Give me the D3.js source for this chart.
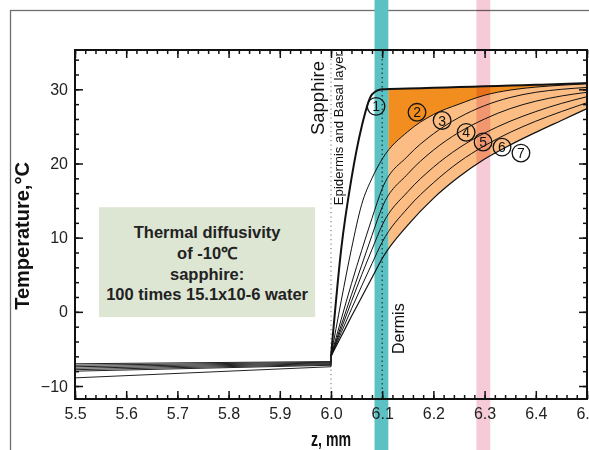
<!DOCTYPE html>
<html>
<head>
<meta charset="utf-8">
<script src="https://cdn.jsdelivr.net/npm/d3@7"></script>
<style>
  body { margin: 0; background: #fff; }
  text { font-family: "Liberation Sans", Arial, sans-serif; }
</style>
</head>
<body>
<svg id="chart"></svg>
<script>
// depth (mm) in the tissue, from the sapphire contact at 6.0
const zTissue = [6.0, 6.02, 6.04, 6.06, 6.08, 6.1, 6.15, 6.2, 6.25, 6.3, 6.35, 6.4, 6.45, 6.5];
const curve1 = [-6, 8.5, 18.0, 25.0, 29.3, 30.0, 30.1, 30.2, 30.3, 30.4, 30.5, 30.6, 30.7, 30.85];
const curve2 = [-6, 1.5, 8.5, 14.5, 18.0, 20.6, 24.3, 26.6, 28.0, 29.2, 29.9, 30.3, 30.55, 30.75];
const curve3 = [-6, -1.0, 3.8, 8.3, 12.6, 16.6, 21.0, 24.0, 26.2, 27.8, 28.9, 29.6, 30.0, 30.25];
const curve4 = [-6, -1.8, 2.3, 6.3, 10.3, 14.1, 18.6, 21.8, 24.2, 26.0, 27.4, 28.4, 29.1, 29.6];
const curve5 = [-6, -2.3, 1.4, 5.0, 8.4, 11.7, 16.2, 19.5, 22.1, 24.1, 25.7, 27.0, 28.1, 29.0];
const curve6 = [-6, -2.8, 0.4, 3.5, 6.5, 9.4, 14.0, 17.4, 20.2, 22.4, 24.2, 25.7, 27.0, 28.2];
const curve7 = [-6, -3.3, -0.6, 2.0, 4.6, 7.2, 11.7, 15.3, 18.2, 20.6, 22.5, 24.2, 25.8, 27.4];
const curves = [curve1, curve2, curve3, curve4, curve5, curve6, curve7];

// sapphire side: temperature at 5.5 mm and at 6.0 mm for each curve
const zSapphire = [5.5, 6.0];
const sapphireStart = [-7.0, -7.2, -7.4, -7.6, -7.8, -8.0, -8.9];
const sapphireEnd = [-6.7, -6.8, -6.9, -7.0, -7.1, -7.2, -7.4];

// circled labels (z, T)
const labelNames = ["1", "2", "3", "4", "5", "6", "7"];
const labelZ = [6.088, 6.168, 6.217, 6.264, 6.297, 6.334, 6.371];
const labelT = [27.7, 26.9, 25.8, 24.2, 22.9, 22.2, 21.4];

const tealBand = [6.085, 6.112];
const pinkBand = [6.284, 6.311];
const boxLines = ["Thermal diffusivity", "of -10℃", "sapphire:", "100 times 15.1x10-6 water"];

const width = 589, height = 450;
const margin = {top: 50, right: 2, bottom: 51, left: 75};

const svg = d3.select("#chart")
  .attr("width", width)
  .attr("height", height);

const x = d3.scaleLinear().domain([5.5, 6.5]).range([margin.left, width - margin.right]);
const y = d3.scaleLinear().domain([-11.75, 35.3]).range([height - margin.bottom, margin.top]);

const x0 = x.range()[0], x1 = x.range()[1], yb = y.range()[0], yt = y.range()[1];

// outer frame
svg.append("rect")
  .attr("x", 10.5).attr("y", 10.5)
  .attr("width", 700).attr("height", 700)
  .attr("fill", "none")
  .attr("stroke", "#6f6f6f")
  .attr("stroke-width", 1.3);

const pts = c => zTissue.map((z, i) => ({z: z, t: c[i]}));

// fills between curves, right of the epidermis band
svg.append("clipPath").attr("id", "dermis")
  .append("rect")
  .attr("x", x(tealBand[1])).attr("y", yt)
  .attr("width", x1 - x(tealBand[1])).attr("height", yb - yt);

const band = (hi, lo) => d3.area()
  .curve(d3.curveMonotoneX)
  .x((d, i) => x(zTissue[i]))
  .y0((d, i) => y(lo[i]))
  .y1((d, i) => y(hi[i]));

const fills = svg.append("g").attr("clip-path", "url(#dermis)");
fills.append("path")
  .attr("d", band(curve1, curve7)(zTissue))
  .attr("fill", "#fbbd83");
fills.append("path")
  .attr("d", band(curve1, curve2)(zTissue))
  .attr("fill", "#f28d20");

// coloured bands
svg.append("rect")
  .attr("x", x(tealBand[0])).attr("y", 0)
  .attr("width", x(tealBand[1]) - x(tealBand[0])).attr("height", height)
  .attr("fill", "#5cc1c2");
svg.append("rect")
  .attr("x", x(pinkBand[0])).attr("y", 0)
  .attr("width", x(pinkBand[1]) - x(pinkBand[0])).attr("height", height)
  .attr("fill", "#f6cbd7")
  .style("mix-blend-mode", "multiply");

// dotted layer boundaries
svg.append("line")
  .attr("x1", x(6.0)).attr("x2", x(6.0))
  .attr("y1", yt).attr("y2", yb)
  .attr("stroke", "#666").attr("stroke-width", 1)
  .attr("stroke-dasharray", "1.2,3.3");
svg.append("line")
  .attr("x1", x(6.1)).attr("x2", x(6.1))
  .attr("y1", yt).attr("y2", yb)
  .attr("stroke", "#1d3f47").attr("stroke-width", 1.3)
  .attr("stroke-dasharray", "1.5,3");

// temperature profiles in tissue
const line = d3.line()
  .curve(d3.curveMonotoneX)
  .x(d => x(d.z))
  .y(d => y(d.t));

svg.append("g")
  .selectAll("path")
  .data(curves)
  .enter().append("path")
  .attr("d", c => line(pts(c)))
  .attr("fill", "none")
  .attr("stroke", "#111")
  .attr("stroke-width", (c, i) => i == 0 ? 2 : (i == 6 ? 1.2 : 1));

// sapphire side
svg.append("g")
  .selectAll("path")
  .data(sapphireStart)
  .enter().append("path")
  .attr("d", (d, i) => d3.line()([
    [x(zSapphire[0]), y(d)],
    [x(zSapphire[1]), y(sapphireEnd[i])],
    [x(zSapphire[1]), y(curves[i][0])]
  ]))
  .attr("fill", "none")
  .attr("stroke", "#222")
  .attr("stroke-width", 1);

// layer names
const vlabel = (txt, px, py, size, anchor) => svg.append("text")
  .attr("transform", "translate(" + px + "," + py + ") rotate(-90)")
  .attr("text-anchor", anchor)
  .attr("font-size", size)
  .attr("fill", "#111")
  .text(txt);
vlabel("Sapphire", x(5.985) + 1, 61, 18.5, "end");
vlabel("Epidermis and Basal layer", x(6.021) + 1.5, 52, 13.2, "end");
vlabel("Dermis", x(6.128) + 7.5, 354, 16, "start");

// circled curve numbers
const marks = svg.append("g")
  .selectAll("g")
  .data(labelNames)
  .enter().append("g")
  .attr("transform", (d, i) => "translate(" + x(labelZ[i]) + "," + y(labelT[i]) + ")");
marks.append("circle")
  .attr("r", 8.8)
  .attr("fill", "none")
  .attr("stroke", "#111")
  .attr("stroke-width", 1.3);
marks.append("text")
  .attr("text-anchor", "middle")
  .attr("dy", "0.36em")
  .attr("font-size", 14)
  .attr("fill", "#111")
  .text(d => d);

// annotation box
svg.append("rect")
  .attr("x", x(5.547)).attr("y", y(14.1))
  .attr("width", x(5.969) - x(5.547)).attr("height", y(-0.7) - y(14.1))
  .attr("fill", "#dde5d3");
svg.append("g")
  .selectAll("text")
  .data(boxLines)
  .enter().append("text")
  .attr("x", (x(5.547) + x(5.969)) / 2)
  .attr("y", (d, i) => y(14.1) + 31 + i * 20.7)
  .attr("text-anchor", "middle")
  .attr("font-size", 16.5)
  .attr("font-weight", "bold")
  .attr("fill", "#222")
  .text(d => d);

// axes with inward ticks
const xMinor = d3.range(0, 51).map(i => 5.5 + i * 0.02);
const xMajor = d3.range(0, 11).map(i => 5.5 + i * 0.1);
const yMinor = d3.range(-10, 35, 2);
const yMajor = [-10, 0, 10, 20, 30];

const styleAxis = g => {
  g.select(".domain").remove();
  g.selectAll("line").attr("stroke", "#111").attr("stroke-width", 1.5);
  g.selectAll("text").attr("font-size", 16).attr("fill", "#222")
    .attr("font-family", "'Liberation Sans', Arial, sans-serif");
};

svg.append("g").attr("transform", "translate(0," + yb + ")")
  .call(d3.axisBottom(x).tickValues(xMinor).tickSizeInner(-4).tickSizeOuter(0).tickFormat(""))
  .call(styleAxis);
svg.append("g").attr("transform", "translate(0," + yb + ")")
  .call(d3.axisBottom(x).tickValues(xMajor).tickSizeInner(-8).tickSizeOuter(0).tickPadding(9).tickFormat(d3.format(".1f")))
  .call(styleAxis);
svg.append("g").attr("transform", "translate(0," + yt + ")")
  .call(d3.axisTop(x).tickValues(xMinor).tickSizeInner(-4).tickSizeOuter(0).tickFormat(""))
  .call(styleAxis);
svg.append("g").attr("transform", "translate(0," + yt + ")")
  .call(d3.axisTop(x).tickValues(xMajor).tickSizeInner(-8).tickSizeOuter(0).tickFormat(""))
  .call(styleAxis);
svg.append("g").attr("transform", "translate(" + x0 + ",0)")
  .call(d3.axisLeft(y).tickValues(yMinor).tickSizeInner(-4).tickSizeOuter(0).tickFormat(""))
  .call(styleAxis);
svg.append("g").attr("transform", "translate(" + x0 + ",0)")
  .call(d3.axisLeft(y).tickValues(yMajor).tickSizeInner(-8).tickSizeOuter(0).tickPadding(7).tickFormat(d3.format("d")))
  .call(styleAxis);
svg.append("g").attr("transform", "translate(" + x1 + ",0)")
  .call(d3.axisRight(y).tickValues(yMinor).tickSizeInner(-4).tickSizeOuter(0).tickFormat(""))
  .call(styleAxis);
svg.append("g").attr("transform", "translate(" + x1 + ",0)")
  .call(d3.axisRight(y).tickValues(yMajor).tickSizeInner(-8).tickSizeOuter(0).tickFormat(""))
  .call(styleAxis);

svg.append("rect")
  .attr("x", x0).attr("y", yt)
  .attr("width", x1 - x0).attr("height", yb - yt)
  .attr("fill", "none")
  .attr("stroke", "#111")
  .attr("stroke-width", 2);

// axis titles
svg.append("text")
  .attr("transform", "translate(29,236) rotate(-90)")
  .attr("text-anchor", "middle")
  .attr("font-size", 20)
  .attr("font-weight", "bold")
  .attr("fill", "#111")
  .text("Temperature,°C");
svg.append("text")
  .attr("x", (x0 + x1) / 2)
  .attr("y", 446)
  .attr("text-anchor", "middle")
  .attr("font-size", 20)
  .attr("font-weight", "bold")
  .attr("fill", "#111")
  .attr("textLength", 40)
  .attr("lengthAdjust", "spacingAndGlyphs")
  .text("z, mm");
</script>
</body>
</html>
